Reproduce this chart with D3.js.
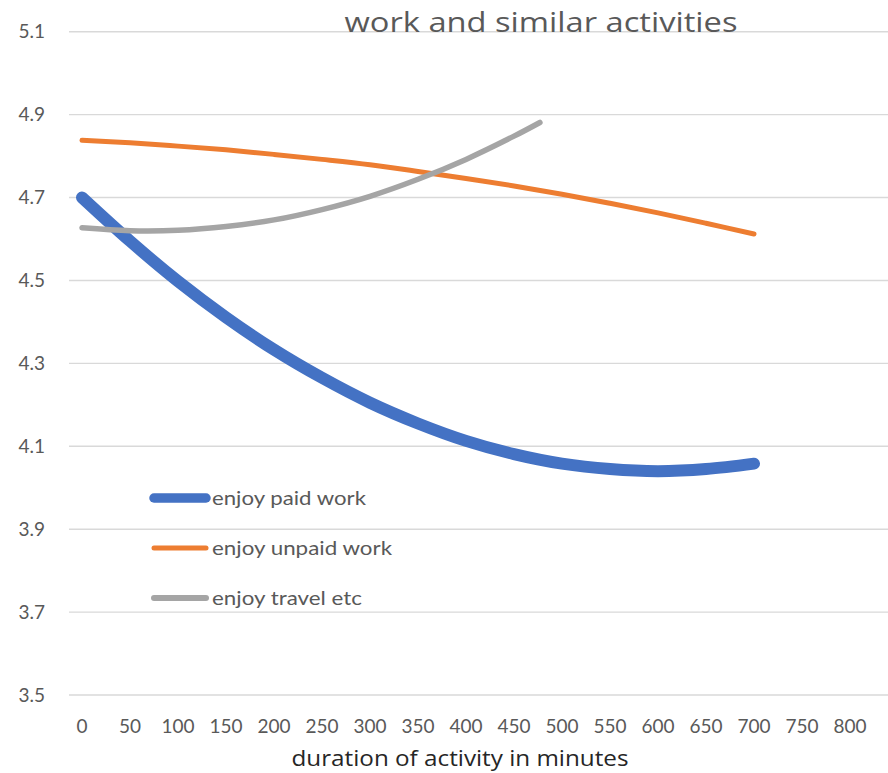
<!DOCTYPE html>
<html>
<head>
<meta charset="utf-8">
<script src="https://cdn.jsdelivr.net/npm/d3@7"></script>
<style>
  html, body { margin: 0; padding: 0; background: #ffffff; }
  svg { display: block; font-family: Lato, "Liberation Sans", "DejaVu Sans", sans-serif; }
  .heading { font-family: "Open Sans", "Liberation Sans", sans-serif; }
</style>
</head>
<body>
<svg id="chart" width="888" height="773"></svg>
<script>
// Minutes spent on the activity
const minutes = [0, 50, 100, 150, 200, 250, 300, 350, 400, 450, 500, 550, 600, 650, 700];
const travelMinutes = [0, 50, 100, 150, 200, 250, 300, 350, 400, 450, 477];

// Mean enjoyment by duration
const paidWork   = [4.700, 4.595, 4.498, 4.411, 4.333, 4.265, 4.205, 4.155, 4.113, 4.081, 4.058, 4.045, 4.040, 4.045, 4.058];
const unpaidWork = [4.838, 4.832, 4.824, 4.815, 4.804, 4.792, 4.779, 4.763, 4.746, 4.728, 4.708, 4.686, 4.663, 4.638, 4.612];
const travel     = [4.627, 4.620, 4.621, 4.630, 4.646, 4.671, 4.703, 4.744, 4.792, 4.848, 4.881];

const seriesNames = ["enjoy paid work", "enjoy unpaid work", "enjoy travel etc"];
const seriesColors = ["#4472c4", "#ed7d31", "#a5a5a5"];

const yTicks = [3.5, 3.7, 3.9, 4.1, 4.3, 4.5, 4.7, 4.9, 5.1];
const xTicks = [0, 50, 100, 150, 200, 250, 300, 350, 400, 450, 500, 550, 600, 650, 700, 750, 800];

const titleText = "work and similar activities";
const xAxisTitle = "duration of activity in minutes";

const svg = d3.select("#chart");
const textColor = "#595959";

const x = d3.scaleLinear().domain([0, 800]).range([82, 850]);
const y = d3.scaleLinear().domain([3.5, 5.1]).range([695, 31.7]);

// Horizontal gridlines
svg.append("g")
  .selectAll("line")
  .data(yTicks)
  .join("line")
  .attr("x1", 69).attr("x2", 888)
  .attr("y1", d => y(d)).attr("y2", d => y(d))
  .attr("stroke", "#d9d9d9")
  .attr("stroke-width", 1.4);

// Y axis tick labels
svg.append("g")
  .selectAll("text")
  .data(yTicks)
  .join("text")
  .attr("x", 45)
  .attr("y", d => y(d))
  .attr("dy", "0.35em")
  .attr("text-anchor", "end")
  .attr("font-size", 19)
  .attr("fill", textColor)
  .text(d => d.toFixed(1));

// X axis tick labels
svg.append("g")
  .selectAll("text")
  .data(xTicks)
  .join("text")
  .attr("x", d => x(d))
  .attr("y", 733)
  .attr("text-anchor", "middle")
  .attr("font-size", 19)
  .attr("fill", textColor)
  .text(d => d);

// Series lines
const line = d3.line()
  .x(d => x(d[0]))
  .y(d => y(d[1]))
  .curve(d3.curveCatmullRom);

const series = [
  { xs: minutes, ys: paidWork, width: 12 },
  { xs: minutes, ys: unpaidWork, width: 5 },
  { xs: travelMinutes, ys: travel, width: 5.5 }
];

series.forEach((s, i) => {
  svg.append("path")
    .datum(s.xs.map((m, j) => [m, s.ys[j]]))
    .attr("d", line)
    .attr("fill", "none")
    .attr("stroke", seriesColors[i])
    .attr("stroke-width", s.width)
    .attr("stroke-linecap", "round")
    .attr("stroke-linejoin", "round");
});

// Legend
const legendWidths = [9.5, 5, 6];
const legendY = [498, 548, 598];
const legendTextLen = [154, 180, 150];
seriesNames.forEach((name, i) => {
  const g = svg.append("g");
  g.append("line")
    .attr("x1", 154).attr("x2", 206)
    .attr("y1", legendY[i]).attr("y2", legendY[i])
    .attr("stroke", seriesColors[i])
    .attr("stroke-width", legendWidths[i])
    .attr("stroke-linecap", "round");
  g.append("text")
    .attr("x", 212)
    .attr("y", legendY[i])
    .attr("dy", "0.35em")
    .attr("font-size", 20)
    .attr("fill", textColor)
    .attr("textLength", legendTextLen[i])
    .attr("lengthAdjust", "spacingAndGlyphs")
    .text(name);
});

// Title
svg.append("text")
  .attr("class", "heading")
  .attr("x", 541)
  .attr("y", 32)
  .attr("text-anchor", "middle")
  .attr("font-size", 28)
  .attr("fill", textColor)
  .attr("textLength", 393)
  .attr("lengthAdjust", "spacingAndGlyphs")
  .text(titleText);

// X axis title
svg.append("text")
  .attr("class", "heading")
  .attr("x", 460)
  .attr("y", 766)
  .attr("text-anchor", "middle")
  .attr("font-size", 22)
  .attr("fill", "#262626")
  .attr("textLength", 337)
  .attr("lengthAdjust", "spacingAndGlyphs")
  .text(xAxisTitle);
</script>
</body>
</html>
